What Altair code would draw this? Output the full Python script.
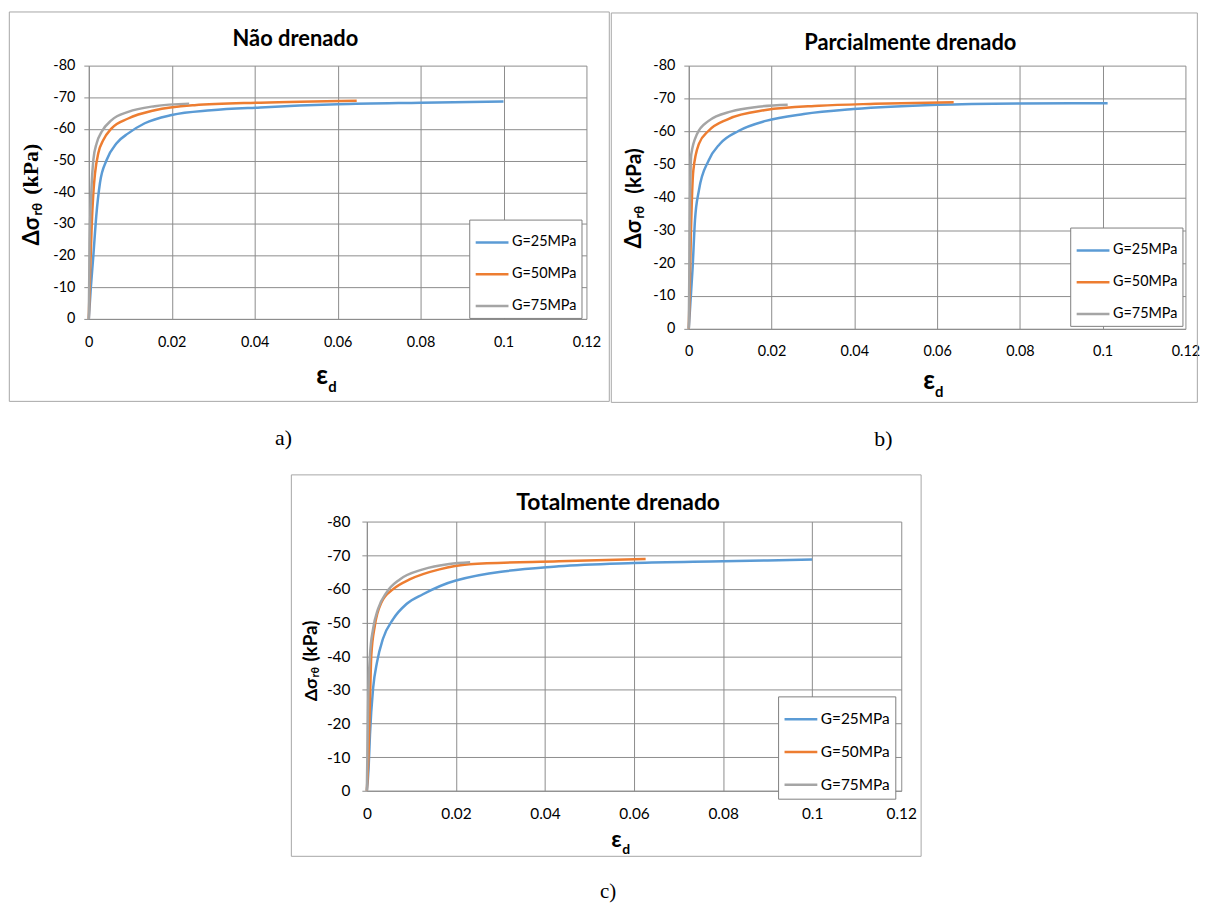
import altair as alt
import pandas as pd

SERIES = ["G=25MPa", "G=50MPa", "G=75MPa"]
COLORS = ["#5B9BD5", "#ED7D31", "#A5A5A5"]
X_TICKS = [0, 0.02, 0.04, 0.06, 0.08, 0.1, 0.12]
Y_TICKS = [-80, -70, -60, -50, -40, -30, -20, -10, 0]
TITLES = ["Não drenado", "Parcialmente drenado", "Totalmente drenado"]
TAGS = ["a)", "b)", "c)"]

# ---- panel a) Nao drenado ----
a_x25 = [0, 0.0005, 0.0011, 0.0018, 0.0027, 0.0043, 0.0067, 0.0095, 0.0135, 0.02, 0.0295, 0.0414, 0.06, 0.08, 0.1]
a_y25 = [0, -10, -20, -32.5, -43, -50.2, -55.5, -58.6, -61.8, -64.4, -65.9, -66.8, -67.8, -68.3, -68.7]
a_x50 = [0, 0.0001, 0.0003, 0.0007, 0.0011, 0.0015, 0.0023, 0.0035, 0.0055, 0.0095, 0.0159, 0.0255, 0.0414, 0.0646]
a_y50 = [0, -5, -13.7, -29.4, -39.8, -46, -52.4, -56.5, -60.2, -63.3, -65.9, -67.5, -68.3, -68.9]
a_x75 = [0, 0.0002, 0.0006, 0.0011, 0.0019, 0.0031, 0.0055, 0.0095, 0.0159, 0.0242]
a_y75 = [0, -24, -39.8, -50.2, -55.5, -59.1, -62.8, -65.4, -67.2, -68]

# ---- panel b) Parcialmente drenado ----
b_x25 = [0, 0.0004, 0.0009, 0.0015, 0.00245, 0.0048, 0.0075, 0.0121, 0.0186, 0.0278, 0.0398, 0.0601, 0.08, 0.1012]
b_y25 = [0, -8, -17.9, -33, -42.1, -51.2, -56.2, -60.2, -63.2, -65.3, -66.8, -68.1, -68.5, -68.6]
b_x50 = [0, 0.0002, 0.0005, 0.0011, 0.00245, 0.0048, 0.0094, 0.0186, 0.0315, 0.045, 0.064]
b_y50 = [0, -10, -28, -48.1, -56.2, -60.2, -63.7, -66.5, -67.8, -68.4, -68.9]
b_x75 = [0, 0.0003, 0.0006, 0.002, 0.0048, 0.0103, 0.0168, 0.0239]
b_y75 = [0, -38, -53, -59.2, -63.2, -66.1, -67.5, -68.1]

# ---- panel c) Totalmente drenado ----
c_x25 = [0, 0.0004, 0.0007, 0.0014, 0.0023, 0.0036, 0.0059, 0.0089, 0.0126, 0.02, 0.0431, 0.06, 0.08, 0.1]
c_y25 = [0, -6.8, -16.6, -30.4, -38.3, -45.1, -51, -55.5, -58.4, -62.5, -66.7, -67.7, -68.2, -68.7]
c_x50 = [0, 0.0004, 0.0007, 0.001, 0.0018, 0.0033, 0.0059, 0.0096, 0.0163, 0.023, 0.0431, 0.0626]
c_y50 = [0, -11.7, -26.5, -40.2, -49.1, -56, -59.9, -62.8, -65.8, -67.3, -68.2, -68.9]
c_x75 = [0, 0.0003, 0.0007, 0.0014, 0.0025, 0.0044, 0.0074, 0.0126, 0.0185, 0.0232]
c_y75 = [0, -26.5, -40.2, -48.1, -54, -58.9, -62.8, -65.8, -67.4, -67.9]

GRID = "#8c8c8c"
FRAME = "#a6a6a6"
FONT = "Lato, 'Open Sans', sans-serif"
SERIF = "'Liberation Serif', 'Times New Roman', serif"


def make_df(xs_list, ys_list):
    rows = []
    for name, xs, ys in zip(SERIES, xs_list, ys_list):
        for x, y in zip(xs, ys):
            rows.append({"eps": x, "sig": y, "G": name})
    return pd.DataFrame(rows)


def one():
    return alt.Data(values=[{"k": 1}])


def txt(text, x, y, size, font=FONT, weight="bold", angle=0, align="left", baseline="alphabetic"):
    kw = dict(text=text, font=font, fontSize=size, fontWeight=weight,
              align=align, baseline=baseline, color="black")
    if angle:
        kw["angle"] = angle
    return alt.Chart(one()).mark_text(**kw).encode(x=alt.value(x), y=alt.value(y))


def panel(df, p):
    fx1, fx2, fy1, fy2 = p["frame"]
    frame = alt.Chart(one()).mark_rect(fillOpacity=0, stroke=FRAME, strokeWidth=1).encode(
        x=alt.value(fx1), x2=alt.value(fx2), y=alt.value(fy1), y2=alt.value(fy2))
    lines = alt.Chart(df).mark_line(strokeWidth=2.5, interpolate="monotone").encode(
        x=alt.X("eps:Q", scale=alt.Scale(domain=[0, 0.12], nice=False),
                axis=alt.Axis(values=X_TICKS, format=".2~f", title=None, grid=True,
                              gridColor=GRID, gridWidth=1, domainColor=GRID, domainWidth=1,
                              ticks=False, labelPadding=p["xlp"], labelFont=FONT,
                              labelFontSize=p["tfs"], labelColor="black",
                              labelFlush=False, labelOverlap=False)),
        y=alt.Y("sig:Q", scale=alt.Scale(domain=[-80, 0], reverse=True, nice=False),
                axis=alt.Axis(values=Y_TICKS,
                              labelExpr="datum.value == 0 ? '0' : '-' + abs(datum.value)",
                              title=None, grid=True, gridColor=GRID, gridWidth=1,
                              domainColor=GRID, domainWidth=1, tickColor=GRID, tickSize=5,
                              labelPadding=p["ylp"], labelFont=FONT, labelFontSize=p["tfs"],
                              labelColor="black", labelFlush=False, labelOverlap=False)),
        color=alt.Color("G:N", scale=alt.Scale(domain=SERIES, range=COLORS),
                        legend=alt.Legend(orient="none", legendX=p["leg"][0], legendY=p["leg"][1],
                                          direction="vertical", title=None,
                                          strokeColor="#7f7f7f", fillColor="white",
                                          padding=5, symbolType="stroke", symbolSize=1089,
                                          symbolStrokeWidth=2.5, labelFont=FONT,
                                          labelFontSize=p["lfs"], labelColor="black",
                                          rowPadding=p["rowpad"], labelOffset=2,
                                          cornerRadius=0)),
    )
    yt = p["ytitle"]
    layers = [
        frame,
        lines,
        txt(p["title"], p["tpos"][0], p["tpos"][1], p["tsize"], align="center", baseline="middle"),
        txt("Δσ", yt[0][0], yt[0][1], yt[0][2], angle=270),
        txt("rθ", yt[1][0], yt[1][1], yt[1][2], angle=270),
        txt("(kPa)", yt[2][0], yt[2][1], yt[2][2], font=p["kpafont"], angle=270),
        txt("ε", p["eps"][0], p["eps"][1], p["eps"][2]),
        txt("d", p["sub"][0], p["sub"][1], p["sub"][2]),
        txt(p["tag"], p["tagpos"][0], p["tagpos"][1], p["tagsize"], font=SERIF, weight="normal",
            align="center", baseline="middle"),
    ]
    return alt.layer(*layers).properties(width=p["w"], height=p["h"])


PA = dict(w=501, h=255, frame=(-80, 524, -54, 338), title=TITLES[0], tpos=(208, -27), tsize=22,
          ytitle=[(-50, 181, 22), (-47, 151, 13), (-51, 130, 22)], kpafont=SERIF,
          eps=(229, 321, 26), sub=(241, 329, 15), tag=TAGS[0], tagpos=(196, 375), tagsize=22,
          leg=(383, 155), tfs=14.5, lfs=14.5, rowpad=7, xlp=17, ylp=9)
PB = dict(w=500, h=265, frame=(-78, 512, -53, 339), title=TITLES[1], tpos=(223, -23), tsize=22,
          ytitle=[(-48, 184, 22), (-45, 154, 13), (-48, 129, 21)], kpafont=FONT,
          eps=(236, 326, 26), sub=(248, 334, 15), tag=TAGS[1], tagpos=(196, 376), tagsize=22,
          leg=(384, 163), tfs=14.5, lfs=14.5, rowpad=7, xlp=16, ylp=9)
PC = dict(w=538, h=271, frame=(-76, 558, -47, 337), title=TITLES[2], tpos=(253, -19), tsize=23,
          ytitle=[(-50, 181, 18), (-48, 157, 11), (-50, 141, 19)], kpafont=FONT,
          eps=(246, 328, 23), sub=(257, 335, 14), tag=TAGS[2], tagpos=(243, 373), tagsize=21,
          leg=(414, 176), tfs=15.5, lfs=15.5, rowpad=6, xlp=16, ylp=12)

pa = panel(make_df([a_x25, a_x50, a_x75], [a_y25, a_y50, a_y75]), PA)
pb = panel(make_df([b_x25, b_x50, b_x75], [b_y25, b_y50, b_y75]), PB)
pc = panel(make_df([c_x25, c_x50, c_x75], [c_y25, c_y50, c_y75]), PC)

row1 = alt.hconcat(pa, pb, spacing=0).resolve_scale(color="independent")
chart = (alt.vconcat(row1, pc, spacing=24, center=True)
         .resolve_scale(color="independent")
         .properties(padding=0, background="white")
         .configure_view(stroke=None))

chart.save("out.html", embed_options={"renderer": "svg", "actions": False})
